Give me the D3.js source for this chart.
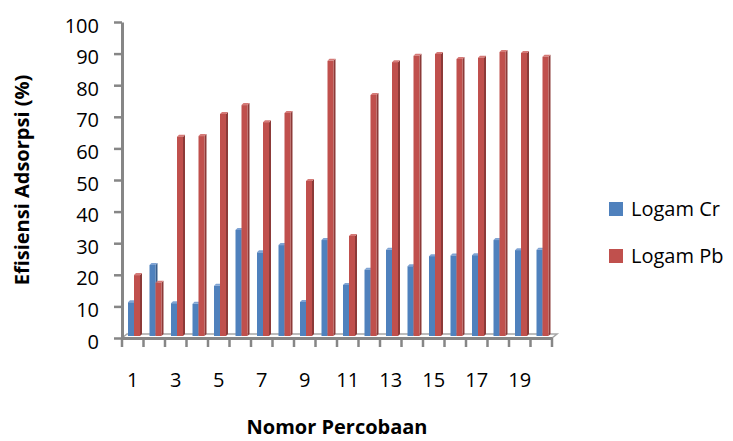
<!DOCTYPE html>
<html><head><meta charset="utf-8">
<script src="https://cdn.jsdelivr.net/npm/d3@7"></script>
<style>body{margin:0;background:#fff}svg{display:block}text{font-family:"Open Sans",sans-serif}</style>
</head><body><svg id="c" width="733" height="441"></svg>
<script>
const categories = d3.range(1, 21);
const cr = [11.3,23.1,11.0,10.8,16.5,34.2,27.1,29.4,11.4,31.0,16.8,21.6,27.9,22.7,25.9,26.1,26.2,31.0,27.8,27.9];
const pb = [19.9,17.5,63.7,63.9,70.9,73.7,68.3,71.2,49.7,87.7,32.3,76.9,87.3,89.3,89.9,88.3,88.7,90.5,90.2,89.0];
const yTicks = d3.range(0, 101, 10);
const xTickLabels = [1,3,5,7,9,11,13,15,17,19];
const seriesNames = ["Logam Cr","Logam Pb"];
const colors = {front:["#4F81BD","#C0504D"], side:["#385D8A","#8C3A38"], top:["#7FA3D3","#D57A77"]};

const svg = d3.select("#c");
const x = d3.scaleBand().domain(categories).range([122, 552]).padding(0);
const y = d3.scaleLinear().domain([0, 100]).range([338, 22]);
const axisColor = "#868686";

// floor
const fd = [5, -4];
svg.append("path")
  .attr("d", `M${x.range()[0]},${y(0)} L${x.range()[0]+fd[0]},${y(0)+fd[1]} L${x.range()[1]+fd[0]},${y(0)+fd[1]} L${x.range()[1]},${y(0)} Z`)
  .attr("fill", "#fff").attr("stroke", "#A6A6A6").attr("stroke-width", 1.5);

// bars
const w = 6, d = 2, base = y(0) - 2;
const data = [];
categories.forEach((c, i) => { data.push({c, s:0, v:cr[i]}); data.push({c, s:1, v:pb[i]}); });
const g = svg.append("g");
const bars = g.selectAll("g.bar").data(data).join("g").attr("class","bar");
bars.each(function(p){
  const gx = x(p.c) + 6 + p.s * w;
  const gy = y(p.v);
  const sel = d3.select(this);
  sel.append("path").attr("d", `M${gx+w},${gy} L${gx+w+d},${gy-d} L${gx+w+d},${base-d} L${gx+w},${base} Z`).attr("fill", colors.side[p.s]);
  sel.append("path").attr("d", `M${gx},${gy} L${gx+d},${gy-d} L${gx+w+d},${gy-d} L${gx+w},${gy} Z`).attr("fill", colors.top[p.s]);
  sel.append("rect").attr("x", gx).attr("y", gy).attr("width", w).attr("height", base - gy).attr("fill", colors.front[p.s]);
});

// y axis
const ya = svg.append("g").attr("transform", `translate(${x.range()[0]},0)`)
  .call(d3.axisLeft(y).tickValues(yTicks).tickSize(8).tickSizeOuter(0).tickPadding(15));
ya.select(".domain").attr("stroke", axisColor).attr("stroke-width", 3);
ya.selectAll(".tick line").attr("stroke", axisColor).attr("stroke-width", 2.5);
ya.selectAll(".tick text").attr("font-size", 20).attr("fill", "#000").attr("font-family","Open Sans").attr("dy", "0.5em");

// x axis
const xa = svg.append("g").attr("transform", `translate(0,${y(0)})`)
  .call(d3.axisBottom(x).tickValues(categories).tickSize(0).tickSizeOuter(0).tickFormat(""));
xa.select(".domain").attr("stroke", axisColor).attr("stroke-width", 3);
xa.selectAll(".tick").remove();
const xb = [...categories.map(c => x(c)), x.range()[1]];
svg.append("g").selectAll("line").data(xb).join("line")
  .attr("x1", d => d).attr("x2", d => d).attr("y1", y(0)).attr("y2", y(0) + 9)
  .attr("stroke", axisColor).attr("stroke-width", 2.5);
svg.append("g").selectAll("text").data(xTickLabels).join("text")
  .attr("x", d => x(d) + x.bandwidth()/2).attr("y", 387)
  .attr("text-anchor", "middle").attr("font-size", 20).text(d => d);

// titles
svg.append("text").attr("x", 337).attr("y", 434).attr("text-anchor","middle")
  .attr("font-size", 20).attr("font-weight","bold").text("Nomor Percobaan");
svg.append("text").attr("transform","translate(29,180) rotate(-90)").attr("text-anchor","middle")
  .attr("font-size", 20).attr("font-weight","bold").text("Efisiensi Adsorpsi (%)");

// legend
const lg = svg.append("g").selectAll("g").data(seriesNames).join("g")
  .attr("transform", (d,i) => `translate(609,${202 + i*47})`);
lg.append("rect").attr("width", 14).attr("height", 14).attr("fill", (d,i) => colors.front[i]);
lg.append("text").attr("x", 22).attr("y", 14).attr("font-size", 20).text(d => d);
</script></body></html>
